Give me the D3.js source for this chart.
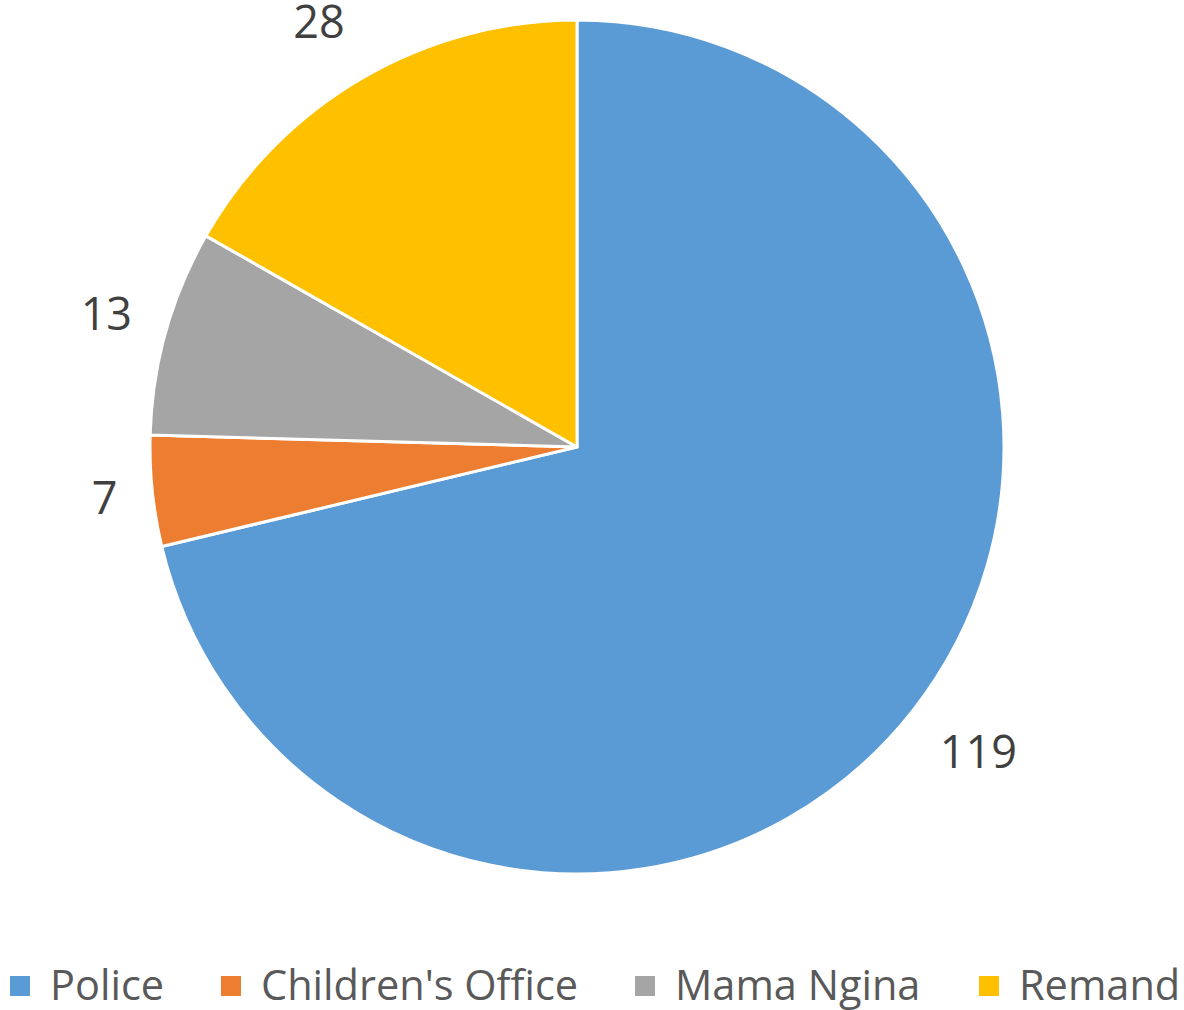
<!DOCTYPE html>
<html>
<head>
<meta charset="utf-8">
<script src="https://cdn.jsdelivr.net/npm/d3@7"></script>
<style>
  body { margin: 0; background: #fff; }
  text { font-family: "Open Sans", "Noto Sans", sans-serif; }
</style>
</head>
<body>
<div id="chart-area"></div>
<script>
const categories = ["Police", "Children's Office", "Mama Ngina", "Remand"];
const counts = [119, 7, 13, 28];
const colors = ["#5B9BD5", "#ED7D31", "#A5A5A5", "#FFC000"];

const canvasWidth = 1184;
const canvasHeight = 1010;
const center = {x: 577, y: 447};
const radius = 427;
const anchorRadius = 462;

const canvas = d3.select("#chart-area").append("svg").attr("width", canvasWidth).attr("height", canvasHeight);
const pieGroup = canvas.append("g").attr("transform", `translate(${center.x}, ${center.y})`);

const colorScale = d3.scaleOrdinal().domain(categories).range(colors);

const pie = d3.pie().sort(null).value(d => d.value);
const slices = pie(categories.map((c, i) => ({name: c, value: counts[i]})));

const arc = d3.arc().innerRadius(0).outerRadius(radius);

pieGroup.selectAll("path").data(slices).enter()
  .append("path")
  .attr("d", arc)
  .attr("fill", d => colorScale(d.data.name))
  .attr("stroke", "#fff")
  .attr("stroke-width", 3)
  .attr("stroke-linejoin", "round");

// outside-end labels: the side edge of the label box sits on an anchor point past the rim
pieGroup.selectAll("text.value").data(slices).enter()
  .append("text")
  .attr("class", "value")
  .attr("text-anchor", "middle")
  .attr("font-size", "45px")
  .attr("fill", "#404040")
  .text(d => d.data.value)
  .each(function(d) {
    const mid = (d.startAngle + d.endAngle) / 2;
    const s = Math.sin(mid), c = -Math.cos(mid);
    const w = this.getComputedTextLength();
    const boxH = 60;
    const cx = anchorRadius * s + Math.sign(s) * w / 2;
    const cy = anchorRadius * c + c * boxH / 2;
    d3.select(this).attr("x", cx).attr("y", cy + 16);
  });

// legend along the bottom
const legendX = [10, 221, 635, 979];
const legend = canvas.append("g").attr("transform", `translate(0, 986)`);

categories.forEach((c, i) => {
  const row = legend.append("g").attr("transform", `translate(${legendX[i]}, 0)`);
  row.append("rect").attr("x", 0).attr("y", -10).attr("width", 20).attr("height", 20).attr("fill", colorScale(c));
  row.append("text").attr("x", 40).attr("y", 14).attr("font-size", "41.5px").attr("fill", "#595959").text(c);
});
</script>
</body>
</html>
